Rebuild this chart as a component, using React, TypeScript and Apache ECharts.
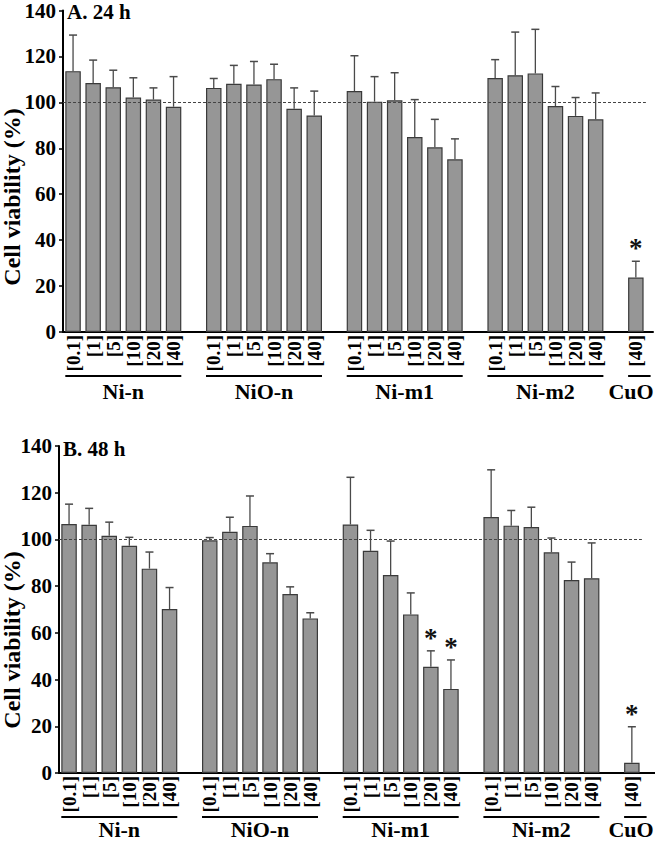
import React, { useEffect, useRef } from "react";
import * as echarts from "echarts";

// ---------- labels ----------
const concLabels = ["[0.1]", "[1]", "[5]", "[10]", "[20]", "[40]"];
const cuoLabels = ["[40]"];
const groupNames = ["Ni-n", "NiO-n", "Ni-m1", "Ni-m2", "CuO"];
const panelTitles = ["A. 24 h", "B. 48 h"];
const yAxisTitle = "Cell viability (%)";
const controlLevel = 100;
const yMin = 0;
const yMax = 140;
const yStep = 20;

// ---------- 24 h values (mean, SD) ----------
const niN24 = [113.6, 108.4, 106.6, 102.1, 101.2, 98.1];
const niN24Err = [15.7, 10.0, 7.4, 8.6, 5.1, 13.1];
const niO24 = [106.3, 108.1, 107.8, 110.1, 97.2, 94.3];
const niO24Err = [4.1, 8.0, 10.0, 6.5, 9.1, 10.6];
const niM1_24 = [104.9, 100.3, 100.9, 84.9, 80.4, 75.2];
const niM1_24Err = [15.4, 10.9, 12.0, 16.3, 12.2, 8.9];
const niM2_24 = [110.6, 111.8, 112.6, 98.4, 94.1, 92.6];
const niM2_24Err = [8.0, 18.8, 19.2, 8.5, 8.0, 11.5];
const cuo24 = [23.7];
const cuo24Err = [7.1];
const sig24 = [
  [false, false, false, false, false, false],
  [false, false, false, false, false, false],
  [false, false, false, false, false, false],
  [false, false, false, false, false, false],
  [true],
];

// ---------- 48 h values (mean, SD) ----------
const niN48 = [106.6, 106.3, 101.6, 97.3, 87.5, 70.2];
const niN48Err = [8.5, 7.0, 5.8, 3.6, 7.1, 9.2];
const niO48 = [99.6, 103.3, 105.8, 90.2, 76.6, 66.2];
const niO48Err = [1.2, 6.2, 12.8, 3.7, 3.1, 2.4];
const niM1_48 = [106.4, 95.1, 84.8, 67.9, 45.5, 36.0];
const niM1_48Err = [20.2, 8.8, 14.5, 9.2, 6.8, 12.4];
const niM2_48 = [109.6, 105.9, 105.3, 94.5, 82.6, 83.4];
const niM2_48Err = [20.2, 6.5, 8.5, 6.1, 7.7, 15.1];
const cuo48 = [4.4];
const cuo48Err = [15.4];
const sig48 = [
  [false, false, false, false, false, false],
  [false, false, false, false, false, false],
  [false, false, false, false, true, true],
  [false, false, false, false, false, false],
  [true],
];

const means24 = [niN24, niO24, niM1_24, niM2_24, cuo24];
const errs24 = [niN24Err, niO24Err, niM1_24Err, niM2_24Err, cuo24Err];
const means48 = [niN48, niO48, niM1_48, niM2_48, cuo48];
const errs48 = [niN48Err, niO48Err, niM1_48Err, niM2_48Err, cuo48Err];

// ---------- styles ----------
const FONT = '"Liberation Serif", "Times New Roman", serif';
const BAR_FILL = "#969696";
const BAR_EDGE = "#3a3a3a";
const ERR_COLOR = "#4a4a4a";
const BAR_W = 15.5;

function buildPanel(means: number[][], errs: number[][], sigs: boolean[][]) {
  const cats: string[] = [];
  const bars: (number | null)[] = [];
  const errData: number[][] = [];
  const groupData: number[][] = [];
  means.forEach((g, gi) => {
    if (gi > 0) {
      cats.push("gap" + gi);
      bars.push(null);
    }
    const start = cats.length;
    const labels = gi === means.length - 1 ? cuoLabels : concLabels;
    g.forEach((v, i) => {
      const idx = cats.length;
      cats.push(labels[i]);
      bars.push(v);
      errData.push([idx, v, errs[gi][i], sigs[gi][i] ? 1 : 0]);
    });
    groupData.push([start, cats.length - 1, gi]);
  });
  return { cats, bars, errData, groupData };
}

const panels = [buildPanel(means24, errs24, sig24), buildPanel(means48, errs48, sig48)];

const layout = [
  { left: 63, top: 5, height: 327, extRight: 2, titleY: 197, labelX: 67, labelY: 12, groupY: 59 },
  { left: 59, top: 446, height: 327, extRight: 0, titleY: 640, labelX: 63, labelY: 449, groupY: 56 },
];
const SLOT = 20.1;

export default function App() {
  const ref = useRef<HTMLDivElement>(null);

  useEffect(() => {
    if (!ref.current) return;
    const chart = echarts.init(ref.current, undefined, { renderer: "svg" });

    const grid: any[] = [];
    const xAxis: any[] = [];
    const yAxis: any[] = [];
    const series: any[] = [];
    const graphic: any[] = [];

    panels.forEach((p, pi) => {
      const L = layout[pi];
      const nCats = p.cats.length;
      const mainGrid = grid.length;
      grid.push({ left: L.left, top: L.top, width: nCats * SLOT, height: L.height, containLabel: false });
      const extGrid = grid.length;
      grid.push({ left: L.left, top: L.top, right: L.extRight, height: L.height, containLabel: false });

      const xMain = xAxis.length;
      xAxis.push({
        type: "category",
        gridIndex: mainGrid,
        data: p.cats,
        boundaryGap: true,
        axisLine: { show: false },
        axisTick: { show: false },
        axisLabel: {
          interval: 0,
          rotate: 90,
          margin: 3,
          fontFamily: FONT,
          fontWeight: "bold",
          fontSize: 19,
          color: "#000",
          formatter: (v: string) => (v.startsWith("gap") ? "" : v),
        },
        splitLine: { show: false },
      });
      const xExt = xAxis.length;
      xAxis.push({
        type: "value",
        gridIndex: extGrid,
        min: 0,
        max: 1,
        axisLine: { show: true, onZero: false, lineStyle: { color: "#000", width: 2 } },
        axisTick: { show: false },
        axisLabel: { show: false },
        splitLine: { show: false },
      });

      const yMain = yAxis.length;
      yAxis.push({
        type: "value",
        gridIndex: mainGrid,
        min: yMin,
        max: yMax,
        interval: yStep,
        axisLine: { show: true, lineStyle: { color: "#000", width: 2 } },
        axisTick: { show: true, length: 4, lineStyle: { color: "#000", width: 1.5 } },
        axisLabel: {
          margin: 7,
          fontFamily: FONT,
          fontWeight: "bold",
          fontSize: 21,
          color: "#000",
          padding: [6, 0, 0, 0],
        },
        splitLine: { show: false },
      });
      const yExt = yAxis.length;
      yAxis.push({ type: "value", gridIndex: extGrid, min: 0, max: 1, show: false });

      series.push({
        type: "line",
        xAxisIndex: xExt,
        yAxisIndex: yExt,
        data: [],
        silent: true,
      });

      series.push({
        type: "bar",
        xAxisIndex: xMain,
        yAxisIndex: yMain,
        data: p.bars,
        barWidth: BAR_W,
        itemStyle: { color: BAR_FILL, borderColor: BAR_EDGE, borderWidth: 1.2 },
        silent: true,
        markLine: {
          silent: true,
          symbol: "none",
          label: { show: false },
          lineStyle: { type: [3, 2], color: "#444", width: 1 },
          data: [{ yAxis: controlLevel }],
        },
      });

      series.push({
        type: "custom",
        xAxisIndex: xMain,
        yAxisIndex: yMain,
        data: p.errData,
        silent: true,
        z: 5,
        renderItem: (_params: any, api: any) => {
          const x = api.value(0);
          const v = api.value(1);
          const e = api.value(2);
          const s = api.value(3);
          const base = api.coord([x, v]);
          const top = api.coord([x, v + e]);
          const cap = 4;
          const children: any[] = [
            {
              type: "line",
              shape: { x1: base[0], y1: base[1], x2: top[0], y2: top[1] },
              style: { stroke: ERR_COLOR, lineWidth: 1.3 },
            },
            {
              type: "line",
              shape: { x1: top[0] - cap, y1: top[1], x2: top[0] + cap, y2: top[1] },
              style: { stroke: ERR_COLOR, lineWidth: 1.5 },
            },
          ];
          if (s) {
            children.push({
              type: "text",
              x: top[0],
              y: top[1] - 13,
              style: {
                text: "*",
                fontFamily: FONT,
                fontWeight: "bold",
                fontSize: 27,
                fill: "#111",
                textAlign: "center",
                textVerticalAlign: "middle",
              },
            });
          }
          return { type: "group", children };
        },
      });

      series.push({
        type: "custom",
        xAxisIndex: xMain,
        yAxisIndex: yMain,
        data: p.groupData,
        silent: true,
        clip: false,
        renderItem: (_params: any, api: any) => {
          const s = api.value(0);
          const e = api.value(1);
          const gi = api.value(2);
          const p0 = api.coord([s, 0]);
          const p1 = api.coord([e, 0]);
          const half = BAR_W / 2;
          const x1 = p0[0] - half;
          const x2 = p1[0] + half + (s === e ? 7 : 0);
          const cx = Math.min((x1 + x2) / 2, api.getWidth() - 24);
          return {
            type: "group",
            children: [
              {
                type: "line",
                shape: { x1, y1: p0[1] + 44, x2, y2: p0[1] + 44 },
                style: { stroke: "#000", lineWidth: 2 },
              },
              {
                type: "text",
                x: cx,
                y: p0[1] + L.groupY,
                style: {
                  text: groupNames[gi],
                  fontFamily: FONT,
                  fontWeight: "bold",
                  fontSize: 22,
                  fill: "#000",
                  textAlign: "center",
                  textVerticalAlign: "middle",
                },
              },
            ],
          };
        },
      });

      graphic.push({
        type: "text",
        x: 12,
        y: L.titleY,
        rotation: Math.PI / 2,
        style: {
          text: yAxisTitle,
          fontFamily: FONT,
          fontWeight: "bold",
          fontSize: 24,
          fill: "#000",
          textAlign: "center",
          textVerticalAlign: "middle",
        },
      });
      graphic.push({
        type: "text",
        x: L.labelX,
        y: L.labelY,
        style: {
          text: panelTitles[pi],
          fontFamily: FONT,
          fontWeight: "bold",
          fontSize: 21,
          fill: "#000",
          textAlign: "left",
          textVerticalAlign: "middle",
        },
      });
    });

    chart.setOption({
      animation: false,
      backgroundColor: "#fff",
      grid,
      xAxis,
      yAxis,
      series,
      graphic,
    });

    return () => chart.dispose();
  }, []);

  return (
    <div
      ref={ref}
      style={{ position: "absolute", left: 0, top: 0, width: 655, height: 841, background: "#fff" }}
    />
  );
}
